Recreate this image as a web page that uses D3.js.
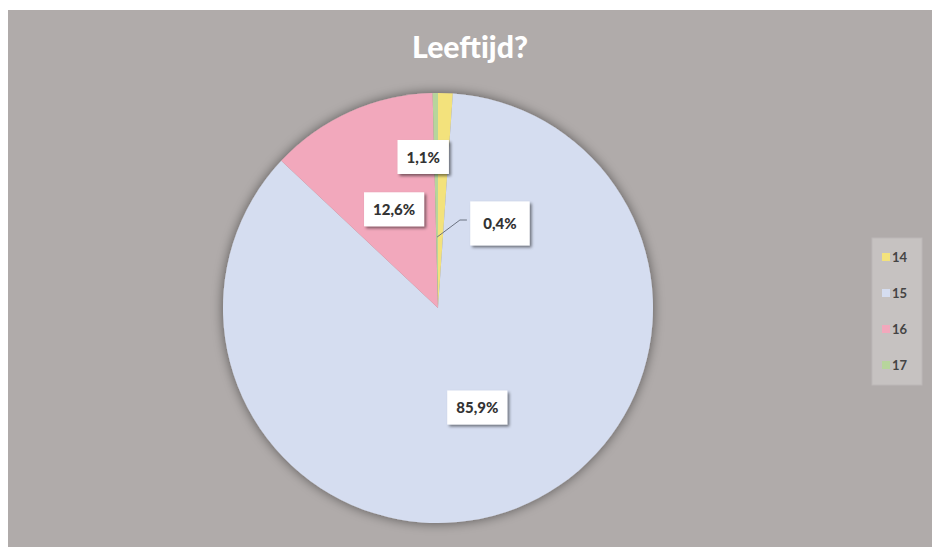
<!DOCTYPE html>
<html>
<head>
<meta charset="utf-8">
<script src="https://cdn.jsdelivr.net/npm/d3@7"></script>
<style>
  html, body { margin: 0; padding: 0; background: #ffffff; }
  svg { display: block; }
</style>
</head>
<body>
<svg id="chart" width="932" height="547"></svg>
<script>
// Age distribution of respondents
const categories = ["14", "15", "16", "17"];
const values = [1.1, 85.9, 12.6, 0.4];
const labels = ["1,1%", "85,9%", "12,6%", "0,4%"];
const colors = ["#f3e27c", "#d5ddf0", "#f2a8bc", "#b7d59c"];
const title = "Leeftijd?";

const W = 932, H = 547;
const svg = d3.select("#chart");

const defs = svg.append("defs");
const pieShadow = defs.append("filter").attr("id", "pieShadow")
  .attr("x", "-20%").attr("y", "-20%").attr("width", "140%").attr("height", "140%");
pieShadow.append("feGaussianBlur").attr("in", "SourceAlpha").attr("stdDeviation", 6).attr("result", "b");
pieShadow.append("feOffset").attr("in", "b").attr("dx", 0).attr("dy", 0).attr("result", "o");
pieShadow.append("feComponentTransfer").attr("in", "o").attr("result", "s")
  .append("feFuncA").attr("type", "linear").attr("slope", 0.5);
const pm = pieShadow.append("feMerge");
pm.append("feMergeNode").attr("in", "s");
pm.append("feMergeNode").attr("in", "SourceGraphic");

const boxShadow = defs.append("filter").attr("id", "boxShadow")
  .attr("x", "-30%").attr("y", "-30%").attr("width", "160%").attr("height", "160%");
boxShadow.append("feGaussianBlur").attr("in", "SourceAlpha").attr("stdDeviation", 1.6).attr("result", "b");
boxShadow.append("feOffset").attr("in", "b").attr("dx", 2).attr("dy", 2).attr("result", "o");
boxShadow.append("feComponentTransfer").attr("in", "o").attr("result", "s")
  .append("feFuncA").attr("type", "linear").attr("slope", 0.5);
const bm = boxShadow.append("feMerge");
bm.append("feMergeNode").attr("in", "s");
bm.append("feMergeNode").attr("in", "SourceGraphic");

// chart area
svg.append("rect").attr("x", 8).attr("y", 10).attr("width", W - 8).attr("height", H - 10)
  .attr("fill", "#b0abaa");

svg.append("text")
  .attr("x", 470).attr("y", 58)
  .attr("text-anchor", "middle")
  .attr("font-family", "Lato, 'Open Sans', sans-serif")
  .attr("font-weight", 900)
  .attr("font-size", 30)
  .attr("textLength", 116)
  .attr("lengthAdjust", "spacingAndGlyphs")
  .attr("fill", "#ffffff")
  .text(title);

const cx = 438, cy = 308, R = 215;
const pie = d3.pie().sort(null).value(d => d)(values);
const arc = d3.arc().innerRadius(0).outerRadius(R);

const g = svg.append("g").attr("transform", `translate(${cx},${cy})`);
g.append("g").attr("filter", "url(#pieShadow)")
  .selectAll("path").data(pie).join("path")
  .attr("d", arc)
  .attr("fill", (d, i) => colors[i]);

// label placement: radius fraction along the slice bisector plus a nudge
const labelPlace = [
  { r: 0.70, dx: -20, dy: 0 },
  { r: 0.50, dx: 0, dy: 0 },
  { r: 0.50, dx: 0, dy: 0 },
  { r: 0.40, dx: 63, dy: 2, leader: true }
];

pie.forEach((d, i) => {
  const p = labelPlace[i];
  const lr = R * p.r;
  const mid = (d.startAngle + d.endAngle) / 2;
  const ax = Math.sin(mid) * lr, ay = -Math.cos(mid) * lr;
  const lx = ax + p.dx, ly = ay + p.dy;
  if (p.leader) {
    const ex = Math.sin(mid) * R * 0.33, ey = -Math.cos(mid) * R * 0.33;
    g.append("path")
      .attr("d", `M${ex},${ey} L${lx - 40},${ly - 4} L${lx - 33},${ly - 4}`)
      .attr("fill", "none").attr("stroke", "#6b7280").attr("stroke-width", 1);
  }
  const lg = g.append("g").attr("transform", `translate(${lx},${ly})`);
  const t = lg.append("text")
    .attr("text-anchor", "middle")
    .attr("dy", "0.36em")
    .attr("font-family", "Lato, 'Open Sans', sans-serif")
    .attr("font-weight", 900)
    .attr("font-size", 15)
    .attr("fill", "#333333")
    .text(labels[i]);
  const bb = t.node().getBBox();
  const padX = p.leader ? 13 : 9, padY = p.leader ? 13 : 8;
  lg.insert("rect", "text")
    .attr("x", bb.x - padX).attr("y", bb.y - padY)
    .attr("width", bb.width + 2 * padX).attr("height", bb.height + 2 * padY)
    .attr("fill", "#ffffff")
    .attr("filter", "url(#boxShadow)");
});

// legend
const lgd = svg.append("g").attr("transform", "translate(872,238)");
lgd.append("rect").attr("width", 50).attr("height", 147)
  .attr("fill", "#c6c2c1").attr("stroke", "#bcb8b7");
const ly = d3.scalePoint().domain(categories).range([19, 127]);
categories.forEach((c, i) => {
  lgd.append("rect").attr("x", 10).attr("y", ly(c) - 4).attr("width", 8).attr("height", 8)
    .attr("fill", colors[i]);
  lgd.append("text").attr("x", 20).attr("y", ly(c)).attr("dy", "0.35em")
    .attr("font-family", "Lato, 'Open Sans', sans-serif")
    .attr("font-weight", 700)
    .attr("font-size", 13)
    .attr("fill", "#444444")
    .text(c);
});
</script>
</body>
</html>
